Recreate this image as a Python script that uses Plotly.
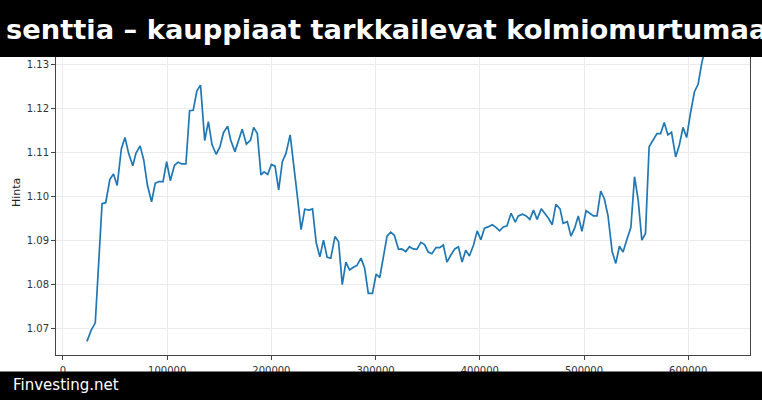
import plotly.graph_objects as go

x_vals = [
    23000, 27000, 31000, 34000, 37500, 41000, 45000, 48500, 52000, 56000,
    59500, 63000, 67000, 70000, 74000, 77500, 81000, 85000, 88500, 92000,
    96000, 99500, 103000, 107000, 110500, 114000, 118000, 121500, 125000, 128500,
    132000, 136000, 139500, 143000, 147000, 150500, 154000, 158000, 161000, 165000,
    169000, 172000, 176000, 180000, 183000, 186500,
    190000, 193000, 196500, 200000, 203500, 207000, 210500, 214000, 218000, 221000,
    225000, 228500, 232000, 236000, 239500, 243000, 246500, 250000, 253500, 257000,
    261000, 264500, 268000, 271500, 275000, 279000, 282000, 286000, 289500, 293000,
    297000, 300500, 304000, 307500, 311000, 314500, 318000, 322000, 325000, 329000,
    332500, 336000, 339500, 343500, 347000, 350500, 354000, 358000, 361500, 365000,
    368500, 372000, 376000, 379500, 383000, 386500, 390000, 394000, 397500, 401000,
    404500, 408000, 412000, 415500, 419000, 422500, 426000,
    430000, 434000, 437000, 441000, 444500, 448000, 451500, 455000, 459000, 462500,
    466000, 469500, 473000, 477000, 480000, 484000, 487500, 491000, 494500, 498000,
    502000, 505500, 509000, 512500, 516000, 519500, 523000, 527000, 530500, 534000,
    537500, 541000, 545000, 548500, 552000, 555500, 559000, 562500, 566000, 570000,
    573500, 577000, 580500, 584000, 588000, 591500, 595000, 598500, 602000, 606000,
    609500, 613000, 616500, 620000, 624000, 628000,
]

prices = [
    1.0670, 1.0695, 1.0712, 1.0847, 1.0983, 1.0985, 1.1038, 1.1050, 1.1024, 1.1107,
    1.1133, 1.1097, 1.1069, 1.1097, 1.1114, 1.1082, 1.1025, 1.0987, 1.1029, 1.1033,
    1.1033, 1.1078, 1.1035, 1.1070, 1.1077, 1.1073, 1.1073, 1.1194, 1.1195, 1.1239,
    1.1252, 1.1126, 1.1169, 1.1117, 1.1095, 1.1111, 1.1144, 1.1159, 1.1127, 1.1101,
    1.1131, 1.1152, 1.1118, 1.1127, 1.1156, 1.1142,
    1.1048, 1.1055, 1.1049, 1.1072, 1.1068, 1.1014, 1.1078, 1.1097, 1.1139, 1.1082,
    1.0998, 1.0924, 1.0970, 1.0968, 1.0971, 1.0894, 1.0862, 1.0900, 1.0861, 1.0859,
    1.0908, 1.0896, 1.0799, 1.0850, 1.0832, 1.0839, 1.0842, 1.0859, 1.0836, 1.0779,
    1.0779, 1.0823, 1.0815, 1.0862, 1.0909, 1.0918, 1.0911, 1.0879, 1.0880, 1.0874,
    1.0885, 1.0880, 1.0879, 1.0895, 1.0890, 1.0873, 1.0869, 1.0883, 1.0883, 1.0889,
    1.0850, 1.0865, 1.0880, 1.0885, 1.0850, 1.0877, 1.0864, 1.0889, 1.0921, 1.0901,
    1.0927, 1.0930, 1.0935, 1.0929, 1.0921, 1.0930, 1.0932,
    1.0961, 1.0941, 1.0955, 1.0959, 1.0955, 1.0947, 1.0968, 1.0947, 1.0971, 1.0961,
    1.0949, 1.0935, 1.0981, 1.0971, 1.0938, 1.0942, 1.0909, 1.0927, 1.0955, 1.0920,
    1.0967, 1.0961, 1.0955, 1.0955, 1.1011, 1.0994, 1.0956, 1.0874, 1.0847, 1.0886,
    1.0873, 1.0900, 1.0929, 1.1044, 1.0991, 1.0900, 1.0915, 1.1112, 1.1125, 1.1142,
    1.1142, 1.1167, 1.1139, 1.1145, 1.1089, 1.1116, 1.1156, 1.1133, 1.1186, 1.1237,
    1.1254, 1.1302, 1.1338, 1.1352, 1.1345, 1.1372,
]

y_ticks = [1.07, 1.08, 1.09, 1.10, 1.11, 1.12, 1.13]
y_tick_labels = ["1.07", "1.08", "1.09", "1.10", "1.11", "1.12", "1.13"]
x_ticks = [0, 100000, 200000, 300000, 400000, 500000, 600000]
x_tick_labels = ["0", "100000", "200000", "300000", "400000", "500000", "600000"]

title_text = "senttia – kauppiaat tarkkailevat kolmiomurtumaa"
footer_text = "Finvesting.net"
y_title = "Hinta"

W, H = 762, 400
ML, MR, MT, MB = 56, 12, 20, 45
PW, PH = W - ML - MR, H - MT - MB


def px(xp):
    return (xp - ML) / PW


def py(yp):
    return (H - MB - yp) / PH


FONT = "DejaVu Sans"
AXC = "#444444"
GRID = "#ebebeb"

fig = go.Figure()
fig.add_trace(go.Scatter(
    x=x_vals, y=prices, mode="lines",
    line=dict(color="#1f77b4", width=1.7),
    showlegend=False, hoverinfo="skip",
))

axis_common = dict(
    showline=True, linecolor=AXC, linewidth=1, mirror=True,
    ticks="outside", ticklen=4, tickcolor=AXC, tickwidth=1,
    showgrid=True, gridcolor=GRID, gridwidth=1,
    zeroline=False,
    tickfont=dict(family=FONT, size=10, color="#333333"),
)

fig.update_layout(
    width=W, height=H,
    margin=dict(l=ML, r=MR, t=MT, b=MB, autoexpand=False),
    paper_bgcolor="white", plot_bgcolor="white",
    xaxis=dict(range=[-6700, 659300], tickvals=x_ticks, ticktext=x_tick_labels,
               ticklabelstandoff=2, **axis_common),
    yaxis=dict(range=[1.0639, 1.1400], tickvals=y_ticks, ticktext=y_tick_labels, **axis_common),
    shapes=[
        dict(type="rect", xref="paper", yref="paper", x0=px(-5), x1=px(W + 5),
             y0=py(57), y1=py(-5), fillcolor="black", line=dict(width=0), layer="above"),
        dict(type="rect", xref="paper", yref="paper", x0=px(-5), x1=px(W + 5),
             y0=py(H + 5), y1=py(371.5), fillcolor="black", line=dict(width=0), layer="above"),
    ],
    annotations=[
        dict(text=f"<b>{title_text}</b>", xref="paper", yref="paper",
             x=px(4), y=py(29), xanchor="left", yanchor="middle", showarrow=False,
             font=dict(family=FONT, size=27.3, color="white")),
        dict(text=footer_text, xref="paper", yref="paper",
             x=px(11), y=py(385), xanchor="left", yanchor="middle", showarrow=False,
             font=dict(family=FONT, size=15, color="white")),
        dict(text=y_title, xref="paper", yref="paper", textangle=-90,
             x=px(16), y=py(193), xanchor="center", yanchor="middle", showarrow=False,
             font=dict(family=FONT, size=11, color="#222222")),
    ],
)

fig.write_html("out.html")
